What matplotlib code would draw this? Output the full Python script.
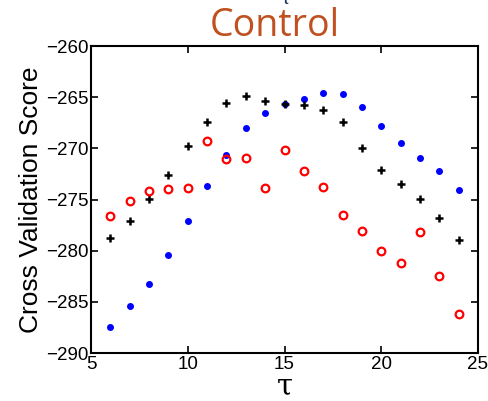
import matplotlib
matplotlib.use("Agg")
import matplotlib.pyplot as plt

tau = [6, 7, 8, 9, 10, 11, 12, 13, 14, 15, 16, 17, 18, 19, 20, 21, 22, 23, 24]
blue = [-287.5, -285.4, -283.3, -280.4, -277.1, -273.7, -270.6, -268.0, -266.5, -265.7,
        -265.2, -264.6, -264.7, -266.0, -267.8, -269.5, -270.9, -272.2, -274.1]
black = [-278.8, -277.1, -274.9, -272.6, -269.8, -267.4, -265.6, -264.9, -265.4, -265.7,
         -265.8, -266.2, -267.4, -270.0, -272.1, -273.5, -274.9, -276.8, -279.0]
red = [-276.6, -275.1, -274.2, -274.0, -273.9, -269.3, -271.0, -270.9, -273.9, -270.2,
       -272.2, -273.8, -276.5, -278.1, -280.0, -281.2, -278.2, -282.5, -286.2]

plt.rcParams['font.family'] = ['Liberation Sans', 'DejaVu Sans']
fig = plt.figure(figsize=(4.88, 4.01), dpi=100)
ax = fig.add_axes([0.1865, 0.1197, 0.793, 0.7653])

ax.plot(tau, blue, '.', color='#0000ff', ms=8)
ax.plot(tau, black, '+', color='k', ms=5.5, mew=1.8)
ax.plot(tau, red, 'o', mfc='none', mec='#ff0000', ms=5.5, mew=1.6)

ax.set_xlim(5, 25)
ax.set_ylim(-290, -260)
ax.set_xticks([5, 10, 15, 20, 25])
ax.set_yticks(range(-290, -259, 5))
ax.tick_params(direction='in', top=True, right=True, labelsize=13.5, length=5, width=1.2, pad=2)
for s in ax.spines.values():
    s.set_linewidth(1.5)

ax.set_ylabel('Cross Validation Score', fontsize=19, labelpad=2)
ax.set_xlabel('τ', fontsize=21, family=['DejaVu Serif'], labelpad=0)

fig.text(0.563, 0.935, 'Control', color='#c0501f', fontsize=27,
         family=['Open Sans'], ha='center', va='center')
# clipped fragment of a symbol above the title
fig.text(0.585, 1.002, 'τ', color='#1f3864', fontsize=14, ha='center', va='center')

fig.savefig('out.png', dpi=100)
